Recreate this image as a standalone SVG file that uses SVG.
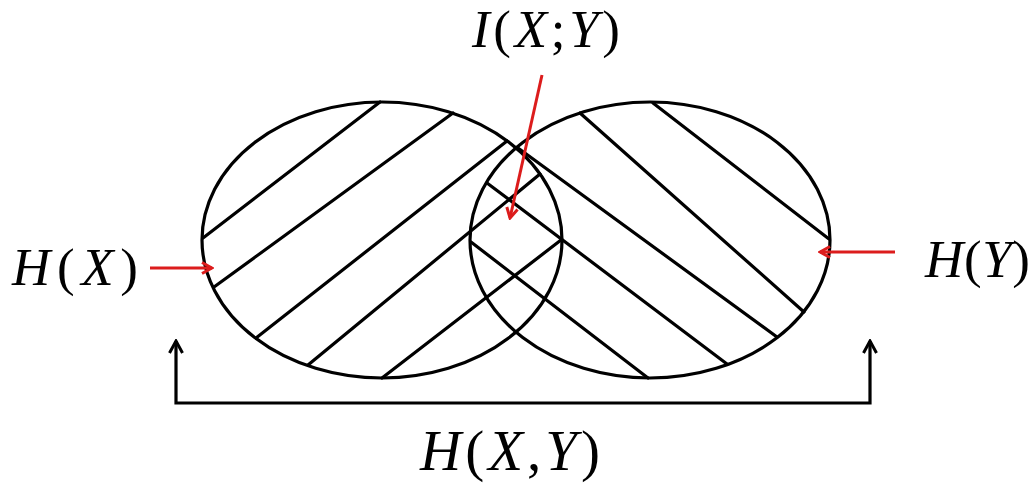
<svg xmlns="http://www.w3.org/2000/svg" width="1036" height="483" viewBox="0 0 1036 483">
<style>
.shape{fill:none;stroke:#000;stroke-width:3.2}
.hatch{stroke:#000;stroke-width:3.2;stroke-linecap:round;fill:none}
.red{stroke:#dc1c1c;stroke-width:3;fill:none}
.lbl{font-family:"Liberation Serif","Times New Roman",serif;fill:#000}
.it{font-style:italic}
</style>
<defs>
<marker id="redHead" markerUnits="userSpaceOnUse" viewBox="0 0 14 14" refX="12" refY="7" markerWidth="14" markerHeight="14" orient="auto">
<path d="M2,1.5 L12,7 L2,12.5" fill="none" stroke="#dc1c1c" stroke-width="3"/>
</marker>
<marker id="blackHead" markerUnits="userSpaceOnUse" viewBox="0 0 16 16" refX="14" refY="8" markerWidth="16" markerHeight="16" orient="auto-start-reverse">
<path d="M2,1.5 L14,8 L2,14.5" fill="none" stroke="#000" stroke-width="3"/>
</marker>
</defs>
<rect width="1036" height="483" fill="#fff"/>

<g id="HX-set">
<ellipse class="shape" cx="382" cy="240" rx="180" ry="138"/>
<line class="hatch" x1="203" y1="238" x2="380" y2="102"/>
<line class="hatch" x1="214" y1="287" x2="453" y2="113"/>
<line class="hatch" x1="256" y1="338" x2="507" y2="141"/>
<line class="hatch" x1="308" y1="365" x2="540" y2="174"/>
<line class="hatch" x1="382" y1="378" x2="561" y2="240"/>
</g>

<g id="HY-set">
<ellipse class="shape" cx="650" cy="240" rx="180" ry="138"/>
<line class="hatch" x1="653" y1="103" x2="829" y2="239"/>
<line class="hatch" x1="580" y1="113" x2="804" y2="312"/>
<line class="hatch" x1="518" y1="148" x2="777" y2="337"/>
<line class="hatch" x1="487" y1="183" x2="727" y2="364"/>
<line class="hatch" x1="471" y1="242" x2="648" y2="378"/>
</g>

<g id="connectors">
<line class="red" x1="150" y1="268" x2="212" y2="268" marker-end="url(#redHead)"/>
<line class="red" x1="895" y1="252" x2="820" y2="252" marker-end="url(#redHead)"/>
<line class="red" x1="542" y1="75" x2="510" y2="218" marker-end="url(#redHead)"/>
<path class="shape" d="M176,341 L176,403 L870,403 L870,341" marker-start="url(#blackHead)" marker-end="url(#blackHead)"/>
</g>

<g id="label-IXY">
<text class="lbl" x="472" y="47" font-size="53" textLength="148" lengthAdjust="spacing"><tspan class="it">I</tspan>(<tspan class="it">X</tspan>;<tspan class="it">Y</tspan>)</text>
</g>
<g id="label-HX">
<text class="lbl" x="12" y="285" font-size="53" textLength="126" lengthAdjust="spacing"><tspan class="it">H</tspan>(<tspan class="it">X</tspan>)</text>
</g>
<g id="label-HY">
<text class="lbl" x="925" y="277" font-size="53" textLength="105" lengthAdjust="spacing"><tspan class="it">H</tspan>(<tspan class="it">Y</tspan>)</text>
</g>
<g id="label-HXY">
<text class="lbl" x="420" y="470" font-size="57" textLength="180" lengthAdjust="spacing"><tspan class="it">H</tspan>(<tspan class="it">X</tspan>,<tspan class="it">Y</tspan>)</text>
</g>
</svg>
